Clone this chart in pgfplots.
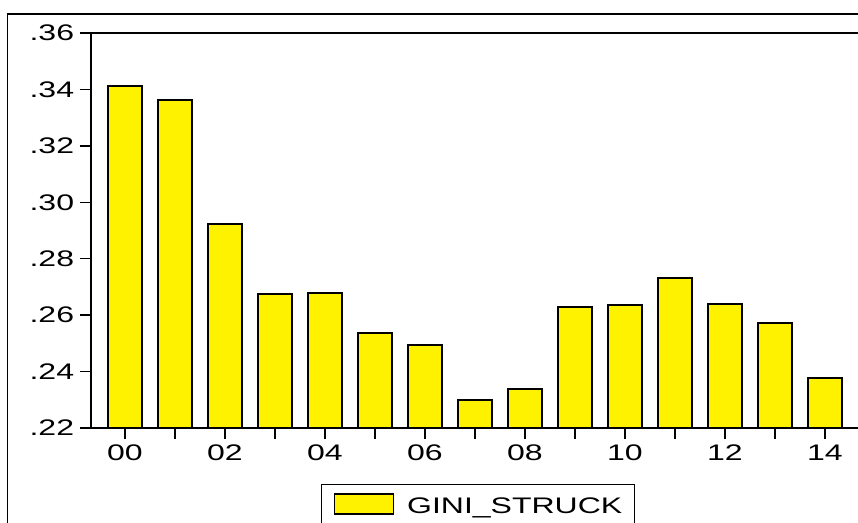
\documentclass[border=0pt]{standalone}
\usepackage{pgfplots}
\pgfplotsset{compat=1.18}
\usepackage{fontspec}
\setmainfont{Liberation Sans}[FakeStretch=1.42]
\definecolor{baryellow}{RGB}{255,242,0}
\begin{document}
\begin{tikzpicture}
\useasboundingbox (0,0) rectangle (643.5pt,392.25pt);
\draw[line width=1.2pt] (5.6pt,-2pt) -- (5.6pt,381.75pt) -- (646pt,381.75pt);
\begin{axis}[at={(68.25pt,71.25pt)}, anchor=south west,
  width=577.5pt, height=296.25pt, scale only axis,
  xmin=-0.68, xmax=14.72, ymin=0.22, ymax=0.36,
  ytick={0.22,0.24,0.26,0.28,0.30,0.32,0.34,0.36},
  yticklabels={.22,.24,.26,.28,.30,.32,.34,.36},
  xtick={0,2,4,6,8,10,12,14},
  xticklabels={00,02,04,06,08,10,12,14},
  minor xtick={1,3,5,7,9,11,13},
  xtick pos=lower, ytick pos=left,
  tick align=outside, major tick length=8pt, minor tick length=8pt,
  tick style={black, line width=1pt},
  axis line style={line width=1.1pt},
  /pgf/number format/assume math mode=true,
  ticklabel style={font=\fontsize{16.9}{18}\selectfont, inner sep=0pt},
  xticklabel style={yshift=-4.5pt},
  yticklabel style={xshift=-4.5pt},
  legend style={at={(0.2987,-0.1418)}, anchor=north west, draw=black, line width=1pt,
    inner xsep=9pt, inner ysep=6.5pt,
    nodes={inner sep=0pt, text depth=0pt},
    font=\fontsize{16.9}{18}\selectfont,
    /tikz/every odd column/.append style={column sep=9.75pt}},
  legend image code/.code={\draw[#1] (0pt,-6pt) rectangle (44.25pt,9pt);},
]
\addplot[ybar, bar width=25.5pt, bar shift=0pt, fill=baryellow, draw=black, line width=1.1pt]
  coordinates {
  (0,0.3412) (1,0.3363) (2,0.2923) (3,0.2675) (4,0.2678) (5,0.2537) (6,0.2494)
  (7,0.2299) (8,0.2338) (9,0.2629) (10,0.2636) (11,0.2732) (12,0.2639) (13,0.2572) (14,0.2377)
  };
\addlegendentry{GINI\_STRUCK}
\end{axis}
\end{tikzpicture}
\end{document}
